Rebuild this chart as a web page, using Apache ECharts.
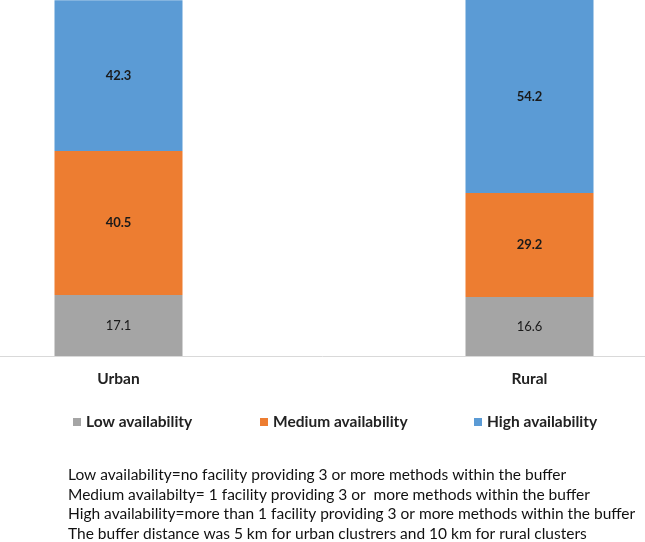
<!DOCTYPE html>
<html><head><meta charset="utf-8">
<script src="https://cdn.jsdelivr.net/npm/echarts@6/dist/echarts.min.js"></script>
<style>html,body{margin:0;padding:0;background:#fff}#c{width:645px;height:542px}</style>
</head><body><div id="c"></div>
<script>
const categories = ['Urban', 'Rural'];
const seriesNames = ['Low availability', 'Medium availability', 'High availability'];
const lowValues = [17.1, 16.6];
const mediumValues = [40.5, 29.2];
const highValues = [42.3, 54.2];
const notes = [
  'Low availability=no facility providing 3 or more methods within the buffer',
  'Medium availabilty= 1 facility providing 3 or  more methods within the buffer',
  'High availability=more than 1 facility providing 3 or more methods within the buffer',
  'The buffer distance was 5 km for urban clustrers and 10 km for rural clusters'
];
const colors = ['#a5a5a5', '#ed7d31', '#5b9bd5'];
const FONT = 'Lato';
const chart = echarts.init(document.getElementById('c'), null, {renderer: 'canvas'});
function mk(name, data, color, bold) {
  return {
    name: name, type: 'bar', stack: 'a', data: data, barWidth: 128,
    itemStyle: {color: color},
    label: {show: true, position: 'inside', color: '#1a1a1a', fontFamily: FONT, fontSize: 13,
      fontWeight: bold ? 'bold' : 'normal', formatter: p => p.value.toFixed(1)}
  };
}
function lg(name, left) {
  return {data: [name], left: left, top: 409, itemWidth: 8, itemHeight: 8, icon: 'rect',
    textStyle: {fontFamily: FONT, fontWeight: 'bold', fontSize: 15.5, color: '#222'}, itemGap: 0};
}
chart.setOption({
  animation: false,
  color: colors,
  grid: {left: -87, width: 822, top: 0, height: 356, outerBoundsMode: 'none', containLabel: false},
  legend: [lg(seriesNames[0], 68), lg(seriesNames[1], 255), lg(seriesNames[2], 469)],
  xAxis: {type: 'category', data: categories,
    axisLine: {lineStyle: {color: '#d9d9d9'}}, axisTick: {show: false},
    axisLabel: {fontFamily: FONT, fontWeight: 'bold', fontSize: 15.5, color: '#222', margin: 15}},
  yAxis: {type: 'value', min: 0, max: 100, show: false, splitLine: {show: false}},
  series: [
    mk(seriesNames[0], lowValues, colors[0], false),
    mk(seriesNames[1], mediumValues, colors[1], true),
    mk(seriesNames[2], highValues, colors[2], true)
  ],
  graphic: notes.map((t, i) => ({type: 'text', left: 68, top: 467 + i * 19.6,
    style: {text: t, fontFamily: FONT, fontSize: 15.5, fill: '#111'}}))
});
</script></body></html>
